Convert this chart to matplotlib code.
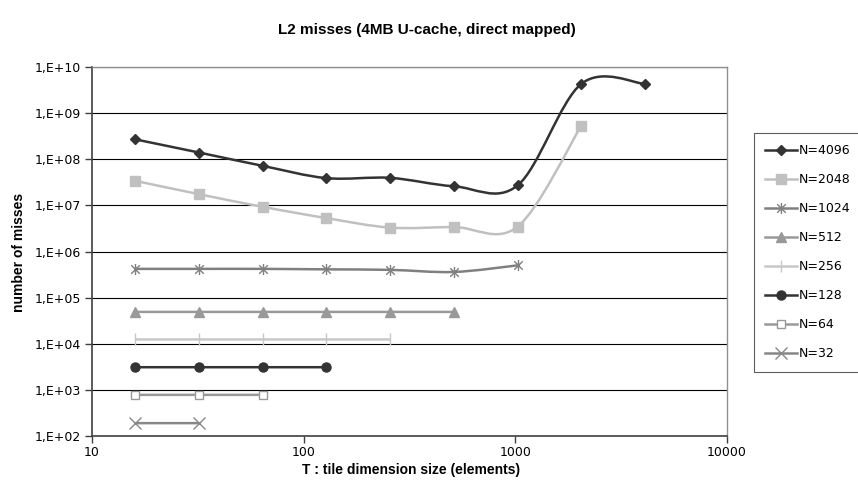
import matplotlib
matplotlib.use('Agg')
import matplotlib.pyplot as plt
import numpy as np
from matplotlib.path import Path
from matplotlib.patches import PathPatch
from matplotlib.ticker import FixedLocator, FuncFormatter, NullLocator

# tile sizes T (elements)
tile_sizes = [16, 32, 64, 128, 256, 512, 1024, 2048, 4096]

# L2 misses for each matrix size N (one value per tile size, up to T = N)
misses_4096 = [2.7e8, 1.4e8, 7.2e7, 3.9e7, 3.95e7, 2.6e7, 2.7e7, 4.3e9, 4.3e9]
misses_2048 = [3.4e7, 1.75e7, 9.3e6, 5.3e6, 3.3e6, 3.4e6, 3.45e6, 5.3e8]
misses_1024 = [4.2e5, 4.2e5, 4.2e5, 4.1e5, 4.0e5, 3.6e5, 5.0e5]
misses_512 = [4.9e4, 4.9e4, 4.9e4, 4.9e4, 4.9e4, 4.9e4]
misses_256 = [1.24e4, 1.24e4, 1.24e4, 1.24e4, 1.24e4]
misses_128 = [3.1e3, 3.1e3, 3.1e3, 3.1e3]
misses_64 = [780, 780, 780]
misses_32 = [190, 190]

labels = ['N=4096', 'N=2048', 'N=1024', 'N=512', 'N=256', 'N=128', 'N=64', 'N=32']
series = [misses_4096, misses_2048, misses_1024, misses_512,
          misses_256, misses_128, misses_64, misses_32]

# X with a vertical bar through it
star = Path([(-1, -1), (1, 1), (-1, 1), (1, -1), (0, -1.3), (0, 1.3)],
            [Path.MOVETO, Path.LINETO] * 3)

styles = [
    dict(color='#333333', marker='D', ms=5.5, mfc='#333333'),
    dict(color='#c0c0c0', marker='s', ms=6.5, mfc='#c0c0c0'),
    dict(color='#808080', marker=star, ms=8, mfc='#808080'),
    dict(color='#999999', marker='^', ms=7, mfc='#999999'),
    dict(color='#c8c8c8', marker='|', ms=9, mfc='#c8c8c8'),
    dict(color='#333333', marker='o', ms=6.5, mfc='#333333'),
    dict(color='#999999', marker='s', ms=6, mfc='white'),
    dict(color='#888888', marker='x', ms=8, mfc='#888888'),
]


def smooth_path(xs, ys):
    # Catmull-Rom style bezier through the points, in log-log space
    px = np.log10(xs)
    py = np.log10(ys)
    n = len(px)
    verts = [(xs[0], ys[0])]
    codes = [Path.MOVETO]
    for i in range(n - 1):
        i0 = max(i - 1, 0)
        i3 = min(i + 2, n - 1)
        c1x = px[i] + (px[i + 1] - px[i0]) / 6
        c1y = py[i] + (py[i + 1] - py[i0]) / 6
        c2x = px[i + 1] - (px[i3] - px[i]) / 6
        c2y = py[i + 1] - (py[i3] - py[i]) / 6
        verts += [(10 ** c1x, 10 ** c1y), (10 ** c2x, 10 ** c2y),
                  (xs[i + 1], ys[i + 1])]
        codes += [Path.CURVE4] * 3
    return Path(verts, codes)


fig = plt.figure(figsize=(8.58, 4.93), dpi=100)
ax = fig.add_axes([92 / 858, 1 - 436 / 493, (727 - 92) / 858, (436 - 67) / 493])
ax.set_xscale('log')
ax.set_yscale('log')

handles = []
for vals, lab, st in zip(series, labels, styles):
    xs = tile_sizes[:len(vals)]
    ax.add_patch(PathPatch(smooth_path(xs, vals), fill=False,
                           edgecolor=st['color'], lw=1.8, zorder=3))
    ax.plot(xs, vals, linestyle='none', marker=st['marker'],
            markersize=st['ms'], color=st['color'],
            markerfacecolor=st['mfc'], markeredgecolor=st['color'],
            markeredgewidth=1.0, zorder=4)
    handles.append(plt.Line2D([], [], color=st['color'], lw=1.8,
                              marker=st['marker'], markersize=st['ms'],
                              markerfacecolor=st['mfc'],
                              markeredgecolor=st['color'], markeredgewidth=1.0))

ax.set_xlim(10, 10000)
ax.set_ylim(1e2, 1e10)

ax.xaxis.set_major_locator(FixedLocator([10, 100, 1000, 10000]))
ax.xaxis.set_minor_locator(NullLocator())
ax.xaxis.set_major_formatter(FuncFormatter(lambda v, p: f'{int(round(v))}'))
ax.yaxis.set_major_locator(FixedLocator([10.0 ** k for k in range(2, 11)]))
ax.yaxis.set_minor_locator(NullLocator())
ax.yaxis.set_major_formatter(
    FuncFormatter(lambda v, p: f'1,E+{int(round(np.log10(v))):02d}'))

ax.grid(axis='y', color='black', lw=0.8)
ax.set_axisbelow(True)
ax.tick_params(axis='both', direction='out', length=5, width=1,
               color='#404040', labelsize=9, pad=3)
ax.tick_params(axis='x', pad=2)

for side in ['left', 'bottom']:
    ax.spines[side].set_color('#404040')
    ax.spines[side].set_linewidth(1.2)
for side in ['top', 'right']:
    ax.spines[side].set_color('#909090')
    ax.spines[side].set_linewidth(1.0)

bold = dict(family='Liberation Sans', weight='bold')
fig.text(427 / 858, 1 - 30 / 493, 'L2 misses (4MB U-cache, direct mapped)',
         ha='center', va='center', fontsize=11, **bold)
fig.text(411 / 858, 1 - 470 / 493, 'T : tile dimension size (elements)',
         ha='center', va='center', fontsize=10, **bold)
fig.text(19 / 858, 1 - 252 / 493, 'number of misses', rotation=90,
         ha='center', va='center', fontsize=10, **bold)

leg = fig.legend(handles, labels, loc='upper left',
                 bbox_to_anchor=(754 / 858, 1 - 133 / 493),
                 fontsize=9, handlelength=2.5, handletextpad=0.2,
                 labelspacing=1.28, borderpad=0.9, borderaxespad=0,
                 fancybox=False, frameon=True)
leg.get_frame().set_edgecolor('#333333')
leg.get_frame().set_linewidth(0.8)

fig.savefig('out.png', dpi=100)
